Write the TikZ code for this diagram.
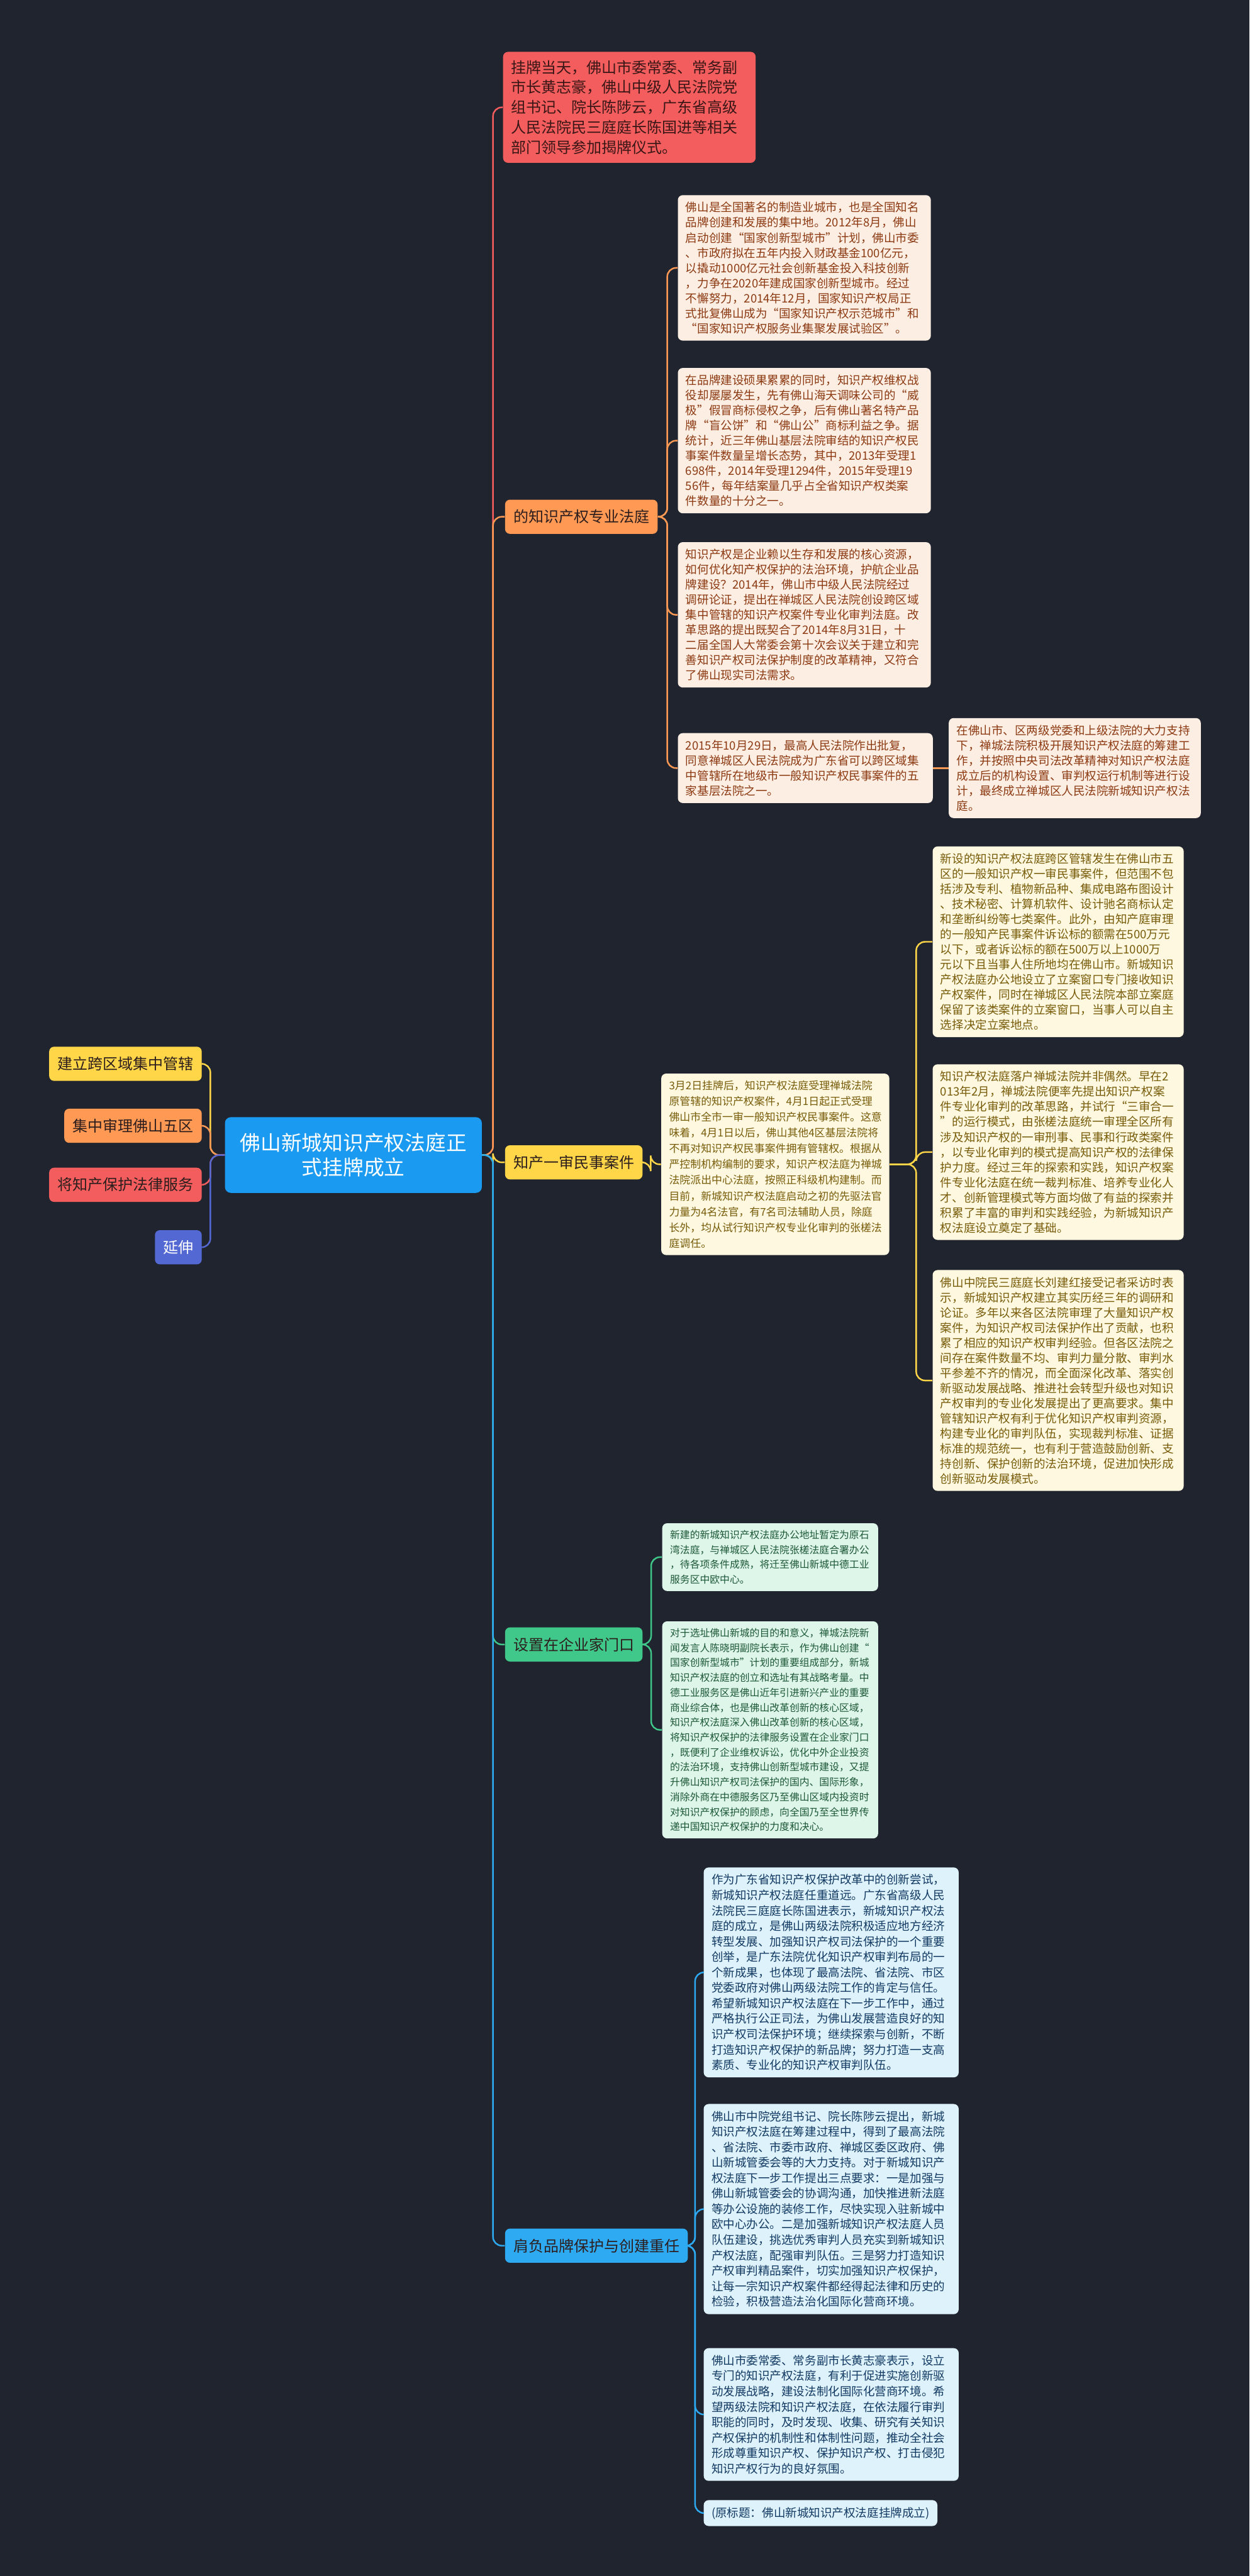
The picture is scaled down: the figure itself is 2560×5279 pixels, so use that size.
\documentclass[tikz,border=0pt]{standalone}
\usepackage{fontspec}
\setmainfont{Noto Sans CJK SC}
\usetikzlibrary{positioning}

\definecolor{bgc}{RGB}{32,36,47}
\definecolor{rootc}{RGB}{26,154,240}
\definecolor{redc}{RGB}{243,93,93}
\definecolor{orgc}{RGB}{255,153,84}
\definecolor{ylwc}{RGB}{255,214,72}
\definecolor{grnc}{RGB}{64,200,138}
\definecolor{bluc}{RGB}{46,170,243}
\definecolor{purc}{RGB}{84,104,212}
\definecolor{darkt}{RGB}{45,30,30}
\definecolor{redt}{RGB}{58,22,22}
\definecolor{orgl}{RGB}{253,238,228}
\definecolor{orgt}{RGB}{140,58,18}
\definecolor{ylwl}{RGB}{253,248,223}
\definecolor{ylwt}{RGB}{120,92,10}
\definecolor{grnl}{RGB}{222,245,234}
\definecolor{grnt}{RGB}{28,88,54}
\definecolor{blul}{RGB}{222,242,252}
\definecolor{blut}{RGB}{18,58,98}

\tikzset{
  root/.style={fill=rootc,text=white,rounded corners=0.12cm,align=center,
    font=\fontsize{12}{14.5}\selectfont,minimum width=5.26cm,minimum height=1.55cm},
  topic/.style={rounded corners=0.1cm,text=darkt,inner xsep=0.17cm,
    font=\fontsize{8.8}{10}\selectfont,minimum height=0.7cm},
  leaf/.style={rounded corners=0.1cm,align=left,anchor=west,inner xsep=0.16cm,
    inner ysep=0.14cm,font=\fontsize{6.8}{8.8}\selectfont},
  link/.style={line width=0.9pt,rounded corners=0.18cm},
}

\begin{document}
\begin{tikzpicture}[x=0.01cm,y=-0.01cm]
\fill[bgc] (0,0) rectangle (2560,5279);

\node[root] (root) at (724,2367) {佛山新城知识产权法庭正\\式挂牌成立};

\node[topic,fill=ylwc,anchor=east] (kua) at (414,2180) {建立跨区域集中管辖};
\node[topic,fill=orgc,anchor=east] (wuqu) at (414,2307) {集中审理佛山五区};
\node[topic,fill=redc,anchor=east] (fuwu) at (414,2428) {将知产保护法律服务};
\node[topic,fill=purc,text=white,anchor=east] (yan) at (414,2556) {延伸};
\coordinate (lv) at (431,0);
\foreach \n/\c in {kua/ylwc,wuqu/orgc,fuwu/redc,yan/purc}
  \draw[link,\c] (root.west) -- (root.west -| lv) |- (\n.east);

\node[leaf,fill=redc,text=redt,text width=4.85cm,inner ysep=0.17cm,
  font=\fontsize{8.8}{11.7}\selectfont] (gua) at (1030,220)
  {挂牌当天，佛山市委常委、常务副\\市长黄志豪，佛山中级人民法院党\\组书记、院长陈陟云，广东省高级\\人民法院民三庭庭长陈国进等相关\\部门领导参加揭牌仪式。};
\node[topic,fill=orgc,anchor=west] (fating) at (1034,1059) {的知识产权专业法庭};
\node[topic,fill=ylwc,anchor=west] (yishen) at (1034,2382) {知产一审民事案件};
\node[topic,fill=grnc,anchor=west] (menkou) at (1034,3370) {设置在企业家门口};
\node[topic,fill=bluc,anchor=west] (zhongren) at (1034,4602) {肩负品牌保护与创建重任};
\coordinate (rv) at (1010,0);
\foreach \n/\c in {gua/redc,fating/orgc,yishen/ylwc,menkou/grnc,zhongren/bluc}
  \draw[link,\c] (root.east) -- (root.east -| rv) |- (\n.west);

\node[leaf,fill=orgl,text=orgt,text width=4.86cm] (f1) at (1388,549)
  {佛山是全国著名的制造业城市，也是全国知名\\品牌创建和发展的集中地。2012年8月，佛山\\启动创建“国家创新型城市”计划，佛山市委\\、市政府拟在五年内投入财政基金100亿元，\\以撬动1000亿元社会创新基金投入科技创新\\，力争在2020年建成国家创新型城市。经过\\不懈努力，2014年12月，国家知识产权局正\\式批复佛山成为“国家知识产权示范城市”和\\“国家知识产权服务业集聚发展试验区”。};
\node[leaf,fill=orgl,text=orgt,text width=4.86cm] (f2) at (1388,903)
  {在品牌建设硕果累累的同时，知识产权维权战\\役却屡屡发生，先有佛山海天调味公司的“威\\极”假冒商标侵权之争，后有佛山著名特产品\\牌“盲公饼”和“佛山公”商标利益之争。据\\统计，近三年佛山基层法院审结的知识产权民\\事案件数量呈增长态势，其中，2013年受理1\\698件，2014年受理1294件，2015年受理19\\56件，每年结案量几乎占全省知识产权类案\\件数量的十分之一。};
\node[leaf,fill=orgl,text=orgt,text width=4.86cm] (f3) at (1388,1260)
  {知识产权是企业赖以生存和发展的核心资源，\\如何优化知产权保护的法治环境，护航企业品\\牌建设？2014年，佛山市中级人民法院经过\\调研论证，提出在禅城区人民法院创设跨区域\\集中管辖的知识产权案件专业化审判法庭。改\\革思路的提出既契合了2014年8月31日，十\\二届全国人大常委会第十次会议关于建立和完\\善知识产权司法保护制度的改革精神，又符合\\了佛山现实司法需求。};
\node[leaf,fill=orgl,text=orgt,text width=4.9cm] (f4) at (1388,1574)
  {2015年10月29日，最高人民法院作出批复，\\同意禅城区人民法院成为广东省可以跨区域集\\中管辖所在地级市一般知识产权民事案件的五\\家基层法院之一。};
\node[leaf,fill=orgl,text=orgt,text width=4.84cm] (f5) at (1943,1574)
  {在佛山市、区两级党委和上级法院的大力支持\\下，禅城法院积极开展知识产权法庭的筹建工\\作，并按照中央司法改革精神对知识产权法庭\\成立后的机构设置、审判权运行机制等进行设\\计，最终成立禅城区人民法院新城知识产权法\\庭。};
\coordinate (ov) at (1367,0);
\foreach \n in {f1,f2,f3,f4}
  \draw[link,orgc] (fating.east) -- (fating.east -| ov) |- (\n.west);
\draw[link,orgc] (f4.east) -- (f5.west);

\node[leaf,fill=ylwl,text=ylwt,text width=4.35cm,
  font=\fontsize{6.2}{9.2}\selectfont] (y0) at (1354,2386)
  {3月2日挂牌后，知识产权法庭受理禅城法院\\原管辖的知识产权案件，4月1日起正式受理\\佛山市全市一审一般知识产权民事案件。这意\\味着，4月1日以后，佛山其他4区基层法院将\\不再对知识产权民事案件拥有管辖权。根据从\\严控制机构编制的要求，知识产权法庭为禅城\\法院派出中心法庭，按照正科级机构建制。而\\目前，新城知识产权法庭启动之初的先驱法官\\力量为4名法官，有7名司法辅助人员，除庭\\长外，均从试行知识产权专业化审判的张槎法\\庭调任。};
\node[leaf,fill=ylwl,text=ylwt,text width=4.82cm] (y1) at (1910,1930)
  {新设的知识产权法庭跨区管辖发生在佛山市五\\区的一般知识产权一审民事案件，但范围不包\\括涉及专利、植物新品种、集成电路布图设计\\、技术秘密、计算机软件、设计驰名商标认定\\和垄断纠纷等七类案件。此外，由知产庭审理\\的一般知产民事案件诉讼标的额需在500万元\\以下，或者诉讼标的额在500万以上1000万\\元以下且当事人住所地均在佛山市。新城知识\\产权法庭办公地设立了立案窗口专门接收知识\\产权案件，同时在禅城区人民法院本部立案庭\\保留了该类案件的立案窗口，当事人可以自主\\选择决定立案地点。};
\node[leaf,fill=ylwl,text=ylwt,text width=4.82cm] (y2) at (1910,2361)
  {知识产权法庭落户禅城法院并非偶然。早在2\\013年2月，禅城法院便率先提出知识产权案\\件专业化审判的改革思路，并试行“三审合一\\”的运行模式，由张槎法庭统一审理全区所有\\涉及知识产权的一审刑事、民事和行政类案件\\，以专业化审判的模式提高知识产权的法律保\\护力度。经过三年的探索和实践，知识产权案\\件专业化法庭在统一裁判标准、培养专业化人\\才、创新管理模式等方面均做了有益的探索并\\积累了丰富的审判和实践经验，为新城知识产\\权法庭设立奠定了基础。};
\node[leaf,fill=ylwl,text=ylwt,text width=4.82cm] (y3) at (1910,2829)
  {佛山中院民三庭庭长刘建红接受记者采访时表\\示，新城知识产权建立其实历经三年的调研和\\论证。多年以来各区法院审理了大量知识产权\\案件，为知识产权司法保护作出了贡献，也积\\累了相应的知识产权审判经验。但各区法院之\\间存在案件数量不均、审判力量分散、审判水\\平参差不齐的情况，而全面深化改革、落实创\\新驱动发展战略、推进社会转型升级也对知识\\产权审判的专业化发展提出了更高要求。集中\\管辖知识产权有利于优化知识产权审判资源，\\构建专业化的审判队伍，实现裁判标准、证据\\标准的规范统一，也有利于营造鼓励创新、支\\持创新、保护创新的法治环境，促进加快形成\\创新驱动发展模式。};
\coordinate (yv) at (1333,0);
\coordinate (yw) at (1877,0);
\draw[link,ylwc] (yishen.east) -- (yishen.east -| yv) |- (y0.west);
\foreach \n in {y1,y2,y3}
  \draw[link,ylwc] (y0.east) -- (y0.east -| yw) |- (\n.west);

\node[leaf,fill=grnl,text=grnt,text width=4.1cm,
  font=\fontsize{5.8}{8.7}\selectfont] (g1) at (1356,3191)
  {新建的新城知识产权法庭办公地址暂定为原石\\湾法庭，与禅城区人民法院张槎法庭合署办公\\，待各项条件成熟，将迁至佛山新城中德工业\\服务区中欧中心。};
\node[leaf,fill=grnl,text=grnt,text width=4.1cm,
  font=\fontsize{5.8}{8.7}\selectfont] (g2) at (1356,3545)
  {对于选址佛山新城的目的和意义，禅城法院新\\闻发言人陈晓明副院长表示，作为佛山创建“\\国家创新型城市”计划的重要组成部分，新城\\知识产权法庭的创立和选址有其战略考量。中\\德工业服务区是佛山近年引进新兴产业的重要\\商业综合体，也是佛山改革创新的核心区域，\\知识产权法庭深入佛山改革创新的核心区域，\\将知识产权保护的法律服务设置在企业家门口\\，既便利了企业维权诉讼，优化中外企业投资\\的法治环境，支持佛山创新型城市建设，又提\\升佛山知识产权司法保护的国内、国际形象，\\消除外商在中德服务区乃至佛山区域内投资时\\对知识产权保护的顾虑，向全国乃至全世界传\\递中国知识产权保护的力度和决心。};
\coordinate (gv) at (1334,0);
\foreach \n in {g1,g2}
  \draw[link,grnc] (menkou.east) -- (menkou.east -| gv) |- (\n.west);

\node[leaf,fill=blul,text=blut,text width=4.9cm,
  font=\fontsize{6.8}{9}\selectfont] (l1) at (1441,4042)
  {作为广东省知识产权保护改革中的创新尝试，\\新城知识产权法庭任重道远。广东省高级人民\\法院民三庭庭长陈国进表示，新城知识产权法\\庭的成立，是佛山两级法院积极适应地方经济\\转型发展、加强知识产权司法保护的一个重要\\创举，是广东法院优化知识产权审判布局的一\\个新成果，也体现了最高法院、省法院、市区\\党委政府对佛山两级法院工作的肯定与信任。\\希望新城知识产权法庭在下一步工作中，通过\\严格执行公正司法，为佛山发展营造良好的知\\识产权司法保护环境；继续探索与创新，不断\\打造知识产权保护的新品牌；努力打造一支高\\素质、专业化的知识产权审判队伍。};
\node[leaf,fill=blul,text=blut,text width=4.9cm,
  font=\fontsize{6.8}{9}\selectfont] (l2) at (1441,4527)
  {佛山市中院党组书记、院长陈陟云提出，新城\\知识产权法庭在筹建过程中，得到了最高法院\\、省法院、市委市政府、禅城区委区政府、佛\\山新城管委会等的大力支持。对于新城知识产\\权法庭下一步工作提出三点要求：一是加强与\\佛山新城管委会的协调沟通，加快推进新法庭\\等办公设施的装修工作，尽快实现入驻新城中\\欧中心办公。二是加强新城知识产权法庭人员\\队伍建设，挑选优秀审判人员充实到新城知识\\产权法庭，配强审判队伍。三是努力打造知识\\产权审判精品案件，切实加强知识产权保护，\\让每一宗知识产权案件都经得起法律和历史的\\检验，积极营造法治化国际化营商环境。};
\node[leaf,fill=blul,text=blut,text width=4.9cm,
  font=\fontsize{6.8}{9}\selectfont] (l3) at (1441,4948)
  {佛山市委常委、常务副市长黄志豪表示，设立\\专门的知识产权法庭，有利于促进实施创新驱\\动发展战略，建设法制化国际化营商环境。希\\望两级法院和知识产权法庭，在依法履行审判\\职能的同时，及时发现、收集、研究有关知识\\产权保护的机制性和体制性问题，推动全社会\\形成尊重知识产权、保护知识产权、打击侵犯\\知识产权行为的良好氛围。};
\node[leaf,fill=blul,text=blut] (l4) at (1441,5150) {(原标题：佛山新城知识产权法庭挂牌成立)};
\coordinate (bv) at (1424,0);
\foreach \n in {l1,l2,l3,l4}
  \draw[link,bluc] (zhongren.east) -- (zhongren.east -| bv) |- (\n.west);
\end{tikzpicture}
\end{document}
